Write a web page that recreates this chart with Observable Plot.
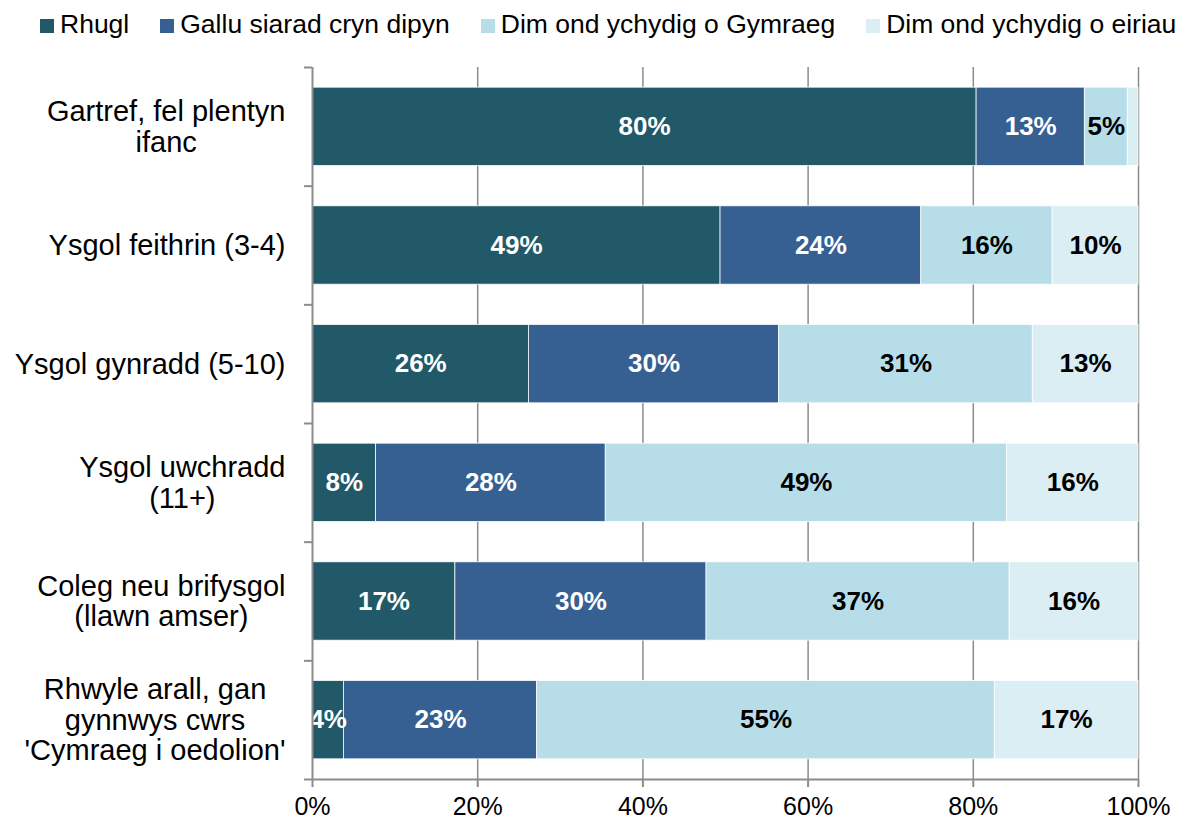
<!DOCTYPE html>
<html><head><meta charset="utf-8">
<script src="https://cdn.jsdelivr.net/npm/d3@7"></script>
<script src="https://cdn.jsdelivr.net/npm/@observablehq/plot@0.6"></script>
<style>
body{margin:0;background:#fff;font-family:"Liberation Sans",Arial,sans-serif;overflow:hidden;}
#legend{display:flex;align-items:center;height:48px;padding-left:40px;gap:31px;font-size:26.5px;color:#000;white-space:nowrap;}
.item{display:flex;align-items:center;}
.sw{width:14px;height:14px;margin-right:6px;margin-top:3px;}
</style></head><body>
<div id="legend"></div>
<div id="chart"></div>
<script>
const categories = ["Gartref, fel plentyn\nifanc", "Ysgol feithrin (3-4)", "Ysgol gynradd (5-10)", "Ysgol uwchradd\n(11+)", "Coleg neu brifysgol\n(llawn amser)", "Rhwyle arall, gan\ngynnwys cwrs\n'Cymraeg i oedolion'"];
const seriesNames = ["Rhugl", "Gallu siarad cryn dipyn", "Dim ond ychydig o Gymraeg", "Dim ond ychydig o eiriau"];
const colors = ["#215968", "#376092", "#B7DEE8", "#DAEEF3"];
const rhugl = [80.4, 49.4, 26.2, 7.7, 17.3, 3.8];
const galluSiarad = [13.1, 24.3, 30.3, 27.8, 30.4, 23.4];
const ychydigGymraeg = [5.2, 15.9, 30.7, 48.6, 36.7, 55.4];
const ychydigEiriau = [1.3, 10.4, 12.8, 15.9, 15.6, 17.4];
const xTicks = [0, 20, 40, 60, 80, 100];

const seriesValues = [rhugl, galluSiarad, ychydigGymraeg, ychydigEiriau];
const segments = [];
categories.forEach((c, row) => {
  let acc = 0;
  seriesValues.forEach((vals, s) => {
    const v = vals[row];
    segments.push({row, s, series: seriesNames[s], value: v, x1: acc, x2: acc + v});
    acc += v;
  });
});

// legend
const legend = document.getElementById("legend");
seriesNames.forEach((n, i) => {
  const it = document.createElement("div"); it.className = "item";
  const sw = document.createElement("div"); sw.className = "sw"; sw.style.background = colors[i];
  const t = document.createElement("span"); t.textContent = n;
  it.appendChild(sw); it.appendChild(t); legend.appendChild(it);
});

const gray = "#8c8c8c";
const chart = Plot.plot({
  width: 1183, height: 774,
  marginLeft: 312, marginRight: 45, marginTop: 19, marginBottom: 43,
  style: {fontFamily: "Liberation Sans, Arial, sans-serif", fontSize: "24px", color: "black", background: "white"},
  x: {domain: [0, 100], label: null},
  y: {domain: [0, categories.length], reverse: true, label: null},
  color: {domain: seriesNames, range: colors},
  marks: [
    Plot.ruleX(xTicks.filter(d => d > 0), {stroke: gray, strokeWidth: 1.5}),
    Plot.rectX(segments, {x1: "x1", x2: "x2", y1: d => d.row + 0.17, y2: d => d.row + 0.83, fill: "series", stroke: "white", strokeWidth: 0.75}),
    Plot.text(segments.filter(d => d.s < 2 && d.value >= 2), {x: d => (d.x1 + d.x2) / 2, y: d => d.row + 0.5, text: d => Math.round(d.value) + "%", fill: "white", fontSize: 26, fontWeight: "bold"}),
    Plot.text(segments.filter(d => d.s >= 2 && d.value >= 2), {x: d => (d.x1 + d.x2) / 2, y: d => d.row + 0.5, text: d => Math.round(d.value) + "%", fill: "black", fontSize: 26, fontWeight: "bold"}),
    Plot.ruleX([0], {stroke: gray, strokeWidth: 2}),
    Plot.ruleY([categories.length], {stroke: gray, strokeWidth: 2}),
    Plot.axisX({ticks: xTicks, tickFormat: d => d + "%", tickSize: 8, tickPadding: 10, stroke: gray, strokeWidth: 2, fill: "black", fontSize: 25}),
    Plot.axisY({ticks: d3.range(categories.length + 1), tickFormat: () => "", tickSize: 8, stroke: gray, strokeWidth: 2}),
    Plot.text(categories, {x: 0, y: (d, i) => i + 0.5, text: d => d, textAnchor: "end", dx: -27, fontSize: 29, lineHeight: 1.05, fill: "black", ariaDescription: "ylab"})
  ]
});
document.getElementById("chart").appendChild(chart);

// center the lines of each multi-line category label on one another (right edge at the label anchor)
let groups = chart.querySelectorAll('g[aria-description="ylab"]');
if (!groups.length) {
  const all = chart.querySelectorAll('g[aria-label="text"]');
  groups = [all[all.length - 1]];
}
groups.forEach(g => g.querySelectorAll("text").forEach(t => {
  const spans = t.querySelectorAll("tspan");
  t.setAttribute("text-anchor", "middle");
  if (spans.length) {
    const w = d3.max(Array.from(spans), s => s.getComputedTextLength());
    spans.forEach(s => s.setAttribute("dx", -w / 2));
  } else {
    const w = t.getComputedTextLength();
    t.setAttribute("dx", -w / 2);
  }
}));
</script>
</body></html>
